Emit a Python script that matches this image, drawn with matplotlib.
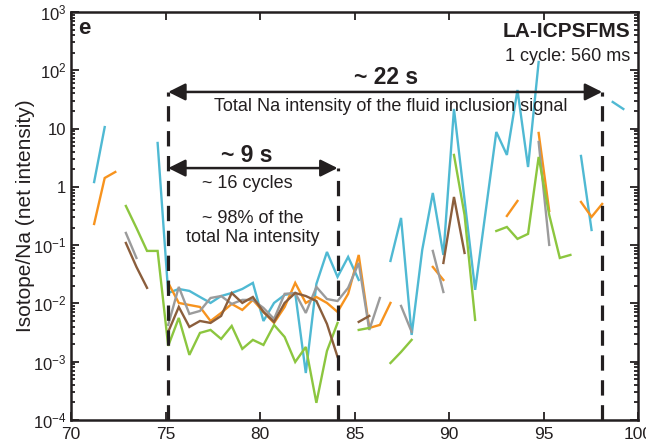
import numpy as np
import matplotlib
matplotlib.use("Agg")
import matplotlib.pyplot as plt
from matplotlib.ticker import LogLocator, FixedLocator, FuncFormatter

plt.rcParams['font.family'] = ['Liberation Sans', 'DejaVu Sans']
plt.rcParams['mathtext.fontset'] = 'custom'
plt.rcParams['mathtext.rm'] = 'Liberation Sans'
plt.rcParams['mathtext.it'] = 'Liberation Sans:italic'

nan = np.nan

# acquisition time of each sweep (s), one cycle = 0.56 s
time_s = [71.22, 71.78, 72.34, 72.90, 73.46, 74.02, 74.58, 75.14, 75.70, 76.26,
          76.82, 77.38, 77.94, 78.50, 79.06, 79.62, 80.18, 80.74, 81.30, 81.86,
          82.42, 82.98, 83.54, 84.10, 84.66, 85.22, 85.78, 86.34, 86.90, 87.46,
          88.02, 88.58, 89.14, 89.70, 90.26, 90.82, 91.38, 91.94, 92.50, 93.06,
          93.62, 94.18, 94.74, 95.30, 95.86, 96.42, 96.98, 97.54, 98.10, 98.66,
          99.22]

# isotope / Na ratios (net intensity), nan = below detection
cyan = [1.21, 10.6, nan, nan, nan, nan, 5.66, 0.0151, 0.0177, 0.0164,
        0.0129, 0.0102, 0.0134, 0.0151, 0.0177, 0.0225, 0.0050, 0.0102, 0.0140, 0.0151,
        0.00064, 0.0216, 0.0764, 0.0285, 0.0628, 0.0253, nan, nan, 0.0536, 0.293,
        0.00288, 0.0828, 0.786, 0.0679, 21.7, 0.596, 0.0171, 0.386, 8.74, 3.53,
        45.9, 2.19, 139, nan, nan, nan, 3.39, 0.182, nan, 28.6,
        21.7]
orange = [0.231, 1.42, 1.80, nan, nan, nan, nan, 0.0225, 0.0102, 0.0094,
          0.0087, 0.0050, 0.00687, 0.0098, 0.00774, 0.0115, 0.00715, 0.00463, 0.0087, 0.0225,
          0.0102, 0.0129, 0.0102, 0.00715, 0.0146, 0.0679, 0.0038, 0.00428, 0.0102, nan,
          nan, nan, 0.0423, 0.0253, nan, nan, nan, nan, nan, 0.317,
          0.573, nan, 8.41, 0.386, nan, nan, 0.551, 0.305, 0.509, nan,
          nan]
green = [nan, nan, nan, 0.470, 0.197, 0.0796, 0.0796, 0.00187, 0.00564, 0.00131,
         0.00312, 0.00351, 0.00246, 0.00411, 0.00166, 0.00237, 0.00194, 0.00428, 0.00266, 0.00099,
         0.00179, 0.000197, 0.00153, 0.00463, nan, 0.00351, 0.0038, nan, 0.00095, 0.00147,
         0.00237, nan, nan, nan, 3.53, 0.330, 0.00521, nan, 0.175, 0.205,
         0.128, 0.156, 3.26, 0.330, 0.0603, 0.0679, nan, nan, nan, nan,
         nan]
brown = [nan, nan, nan, 0.109, 0.0423, 0.0185, nan, 0.00325, 0.0087, 0.00395,
         0.0050, 0.00463, 0.0061, 0.0151, 0.0102, 0.0129, 0.00715, 0.00482, 0.0102, 0.0151,
         0.0134, 0.0110, 0.00445, 0.00121, nan, 0.00482, 0.0061, nan, nan, nan,
         nan, nan, nan, 0.0495, 0.671, 0.0735, nan, nan, nan, nan,
         nan, nan, nan, nan, nan, nan, nan, nan, nan, nan,
         nan]
gray = [nan, nan, nan, 0.162, 0.0603, nan, nan, 0.00428, 0.0192, 0.0066,
        0.00743, 0.0124, 0.0134, 0.0098, 0.0115, 0.0115, 0.00837, 0.00542, 0.0146, 0.0151,
        0.00687, 0.0192, 0.0119, 0.0110, 0.0185, 0.0495, 0.00351, 0.0124, nan, 0.00906,
        0.00325, nan, 0.0796, 0.0157, nan, nan, nan, nan, nan, nan,
        nan, nan, 5.89, 0.101, nan, nan, nan, nan, nan, nan,
        nan]

series = [(cyan, '#4fb9d3'), (orange, '#f7931e'), (gray, '#9b9b9b'),
          (green, '#8cc63f'), (brown, '#8b5e3c')]

# signal window (s) and annotation levels
sig_start, sig_end, main_end = 75.14, 98.10, 84.10
y_total, y_main = 42.5, 2.1

ink = '#231f20'

fig = plt.figure(figsize=(6.46, 4.48), dpi=100)
ax = fig.add_axes([0.110, 0.0625, 0.8777, 0.9107])

for vals, col in series:
    ax.plot(time_s, vals, color=col, lw=1.7, solid_joinstyle='miter')

ax.set_yscale('log')
ax.set_xlim(70, 100)
ax.set_ylim(1e-4, 1e3)

# dashed markers of the integration windows
for x0, ytop in [(sig_start, y_total), (main_end, y_main), (sig_end, y_total)]:
    ax.plot([x0, x0], [1e-4, ytop], color=ink, lw=2.3, dashes=(4.8, 3.0))

arrow = dict(arrowstyle='<|-|>', color=ink, lw=1.8, mutation_scale=26,
             shrinkA=0, shrinkB=0)
ax.annotate('', xy=(sig_start, y_total), xytext=(sig_end, y_total), arrowprops=arrow)
ax.annotate('', xy=(sig_start, y_main), xytext=(main_end, y_main), arrowprops=arrow)

ax.text(86.67, 76, '~ 22 s', ha='center', va='center', fontsize=16.5, weight='bold', color=ink)
ax.text(86.9, 23.5, 'Total Na intensity of the fluid inclusion signal',
        ha='center', va='center', fontsize=13, color=ink)
ax.text(79.3, 3.5, '~ 9 s', ha='center', va='center', fontsize=16.5, weight='bold', color=ink)
ax.text(79.3, 1.12, '~ 16 cycles', ha='center', va='center', fontsize=13, color=ink)
ax.text(79.6, 0.195, '~ 98% of the\ntotal Na intensity', ha='center', va='center',
        fontsize=13, color=ink, linespacing=1.15)

ax.text(0.012, 0.96, 'e', transform=ax.transAxes, ha='left', va='center',
        fontsize=16, weight='bold', color=ink)
ax.text(0.986, 0.953, 'LA-ICPSFMS', transform=ax.transAxes, ha='right', va='center',
        fontsize=15, weight='bold', color=ink)
ax.text(0.986, 0.891, '1 cycle: 560 ms', transform=ax.transAxes, ha='right', va='center',
        fontsize=13, color=ink)

ax.set_ylabel('Isotope/Na (net intensity)', fontsize=15, color=ink, labelpad=-2)

ax.xaxis.set_major_locator(FixedLocator([70, 75, 80, 85, 90, 95, 100]))
ax.yaxis.set_major_locator(LogLocator(base=10, numticks=20))
ax.yaxis.set_minor_locator(LogLocator(base=10, subs=np.arange(2, 10), numticks=20))


def decade(v, pos):
    e = int(round(np.log10(v)))
    if e == 0:
        return '1'
    if e == 1:
        return '10'
    return r'$10^{%d}$' % e


ax.yaxis.set_major_formatter(FuncFormatter(decade))
ax.tick_params(which='both', direction='in', top=True, right=True, color=ink,
               labelcolor=ink, width=1.3)
ax.tick_params(which='major', length=6, labelsize=12.5)
ax.tick_params(which='minor', length=3)
ax.tick_params(axis='y', which='major', labelsize=12)
ax.tick_params(axis='x', which='major', pad=5)
ax.tick_params(axis='x', which='minor', top=False, bottom=False)
for sp in ax.spines.values():
    sp.set_linewidth(1.8)
    sp.set_color(ink)

fig.savefig('out.png', dpi=100)
